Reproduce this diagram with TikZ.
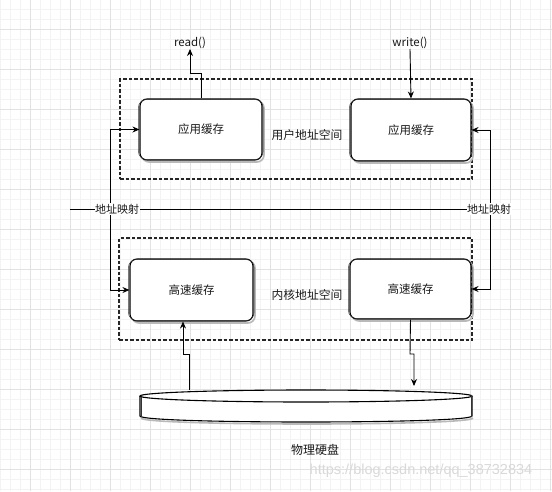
\documentclass[tikz,border=0pt]{standalone}
\usepackage{fontspec}
\setmainfont{Noto Sans CJK SC}
\newfontfamily\wmfont{Liberation Sans}
\usetikzlibrary{arrows.meta,calc}
\definecolor{gridmajor}{HTML}{E2E2E2}
\definecolor{gridminor}{HTML}{F3F3F3}
\tikzset{
  box/.style={draw=black, line width=1.1pt, rounded corners=7pt, fill=white, inner sep=0pt},
  boxshadow/.style={draw=gray!55, line width=1.6pt, rounded corners=7pt},
  boxsketch/.style={draw=black!80, line width=0.5pt, rounded corners=8pt},
  region/.style={draw=black!85, line width=1.2pt, dash pattern=on 3.5pt off 2pt, inner sep=0pt},
  arr/.style={draw=black, line width=0.9pt, -{Stealth[length=7pt,width=6pt]}},
  conn/.style={draw=black, line width=0.9pt},
  txt/.style={font=\fontsize{11.5}{13}\selectfont, text=black!90, inner sep=1pt},
  maplab/.style={font=\fontsize{11}{13}\selectfont, fill=white, inner sep=0.5pt, text=black!90},
}
\begin{document}
\begin{tikzpicture}[x=1pt,y=-1pt]
\useasboundingbox (0,0) rectangle (552,491);
\fill[white] (0,0) rectangle (552,491);
% grid
\foreach \gx in {0,10,...,550} \draw[gridminor, line width=0.6pt] (\gx,0) -- (\gx,491);
\foreach \gy in {9,19,...,489} \draw[gridminor, line width=0.6pt] (0,\gy) -- (552,\gy);
\foreach \gx in {30,70,...,550} \draw[gridmajor, line width=0.8pt] (\gx,0) -- (\gx,491);
\foreach \gy in {29,69,...,469} \draw[gridmajor, line width=0.8pt] (0,\gy) -- (552,\gy);

% regions
\node[region, minimum width=352pt, minimum height=100pt] (userreg) at (296,129) {};
\node[region, minimum width=353pt, minimum height=102pt] (kernreg) at (295.5,289) {};
\node[txt, font=\fontsize{11.8}{13}\selectfont] (userlab) at (307,135) {用户地址空间};
\node[txt, font=\fontsize{11.8}{13}\selectfont] (kernlab) at (307,295) {内核地址空间};

% shadows
\draw[boxshadow] (142,101) rectangle (264,162);
\draw[boxshadow] (353,101) rectangle (473,163);
\draw[boxshadow] (132,261) rectangle (255,323);
\draw[boxshadow] (352,261) rectangle (473,321);

% boxes
\node[box, minimum width=122pt, minimum height=61pt] (ua1) at (201,129.5) {};
\node[box, minimum width=120pt, minimum height=62pt] (ua2) at (411,130) {};
\node[box, minimum width=123pt, minimum height=62pt] (kc1) at (191.5,290) {};
\node[box, minimum width=121pt, minimum height=60pt] (kc2) at (410.5,289) {};
% sketch strokes
\draw[boxsketch] ($(ua1.north west)+(-1,1)$) rectangle ($(ua1.south east)+(0.5,-1)$);
\draw[boxsketch] ($(ua2.north west)+(-1,1)$) rectangle ($(ua2.south east)+(0.5,-1)$);
\draw[boxsketch] ($(kc1.north west)+(-1,1)$) rectangle ($(kc1.south east)+(0.5,-1)$);
\draw[boxsketch] ($(kc2.north west)+(-1,1)$) rectangle ($(kc2.south east)+(0.5,-1)$);
\node[txt] at (ua1) {应用缓存};
\node[txt] at (ua2) {应用缓存};
\node[txt] at (kc1) {高速缓存};
\node[txt] at (kc2) {高速缓存};

% read / write
\node[txt, anchor=south, inner sep=0pt] (readt) at (190,49) {read()};
\node[txt, anchor=south, inner sep=0pt] (writet) at (410,49) {write()};
\coordinate (readbend) at (201,73);
\draw[arr] (ua1.north) -- (readbend) -| (readt.south);
\draw[arr] (writet.south) -- (ua2.north);

% address mapping
\coordinate (hstart) at (70,209);
\coordinate (mapL) at (110,209);
\coordinate (mapR) at (490,209);
\draw[conn] (hstart) -- (mapR);
\draw[arr] (mapL) |- (ua1.west);
\draw[arr] (mapL) |- (kc1.west);
\draw[arr] (mapR) |- (ua2.east);
\draw[arr] (mapR) |- (kc2.east);
\node[maplab] (mapLlab) at (117,209) {地址映射};
\node[maplab] (mapRlab) at (489,209) {地址映射};

% disk
\draw[gray!55, line width=1.6pt] (141,418) .. controls (141,426) and (473,426) .. (473,418);
\draw[black, line width=1.1pt, fill=white] (140,396) -- (140,416) .. controls (140,424) and (472,424) .. (472,416) -- (472,396);
\draw[black, line width=1.1pt, fill=white] (306,396) ellipse [x radius=166pt, y radius=6pt];
\draw[black!80, line width=0.5pt] (141,397) -- (141,417);
\draw[black!80, line width=0.5pt] (471,395) -- (471,417);
\coordinate (diskup) at (189,390);
\coordinate (diskdown) at (414,386);
\node[txt, font=\fontsize{12}{14}\selectfont] (disklab) at (315,450) {物理硬盘};

% disk arrows
\coordinate (upbend) at (189,354);
\coordinate (upbend2) at (183,354);
\draw[arr] (diskup) -- (upbend) -- (upbend2) -- (upbend2 |- kc1.south);
\coordinate (downbend) at (410,354);
\coordinate (downbend2) at (414,354);
\draw[arr] (kc2.south) -- (downbend) -- (downbend2) -- (diskdown);

% watermark
\node[font=\wmfont\fontsize{14.5}{16}\selectfont, text=gray!30, inner sep=0pt] (wm) at (421,471) {https://blog.csdn.net/qq\_38732834};
\end{tikzpicture}
\end{document}
